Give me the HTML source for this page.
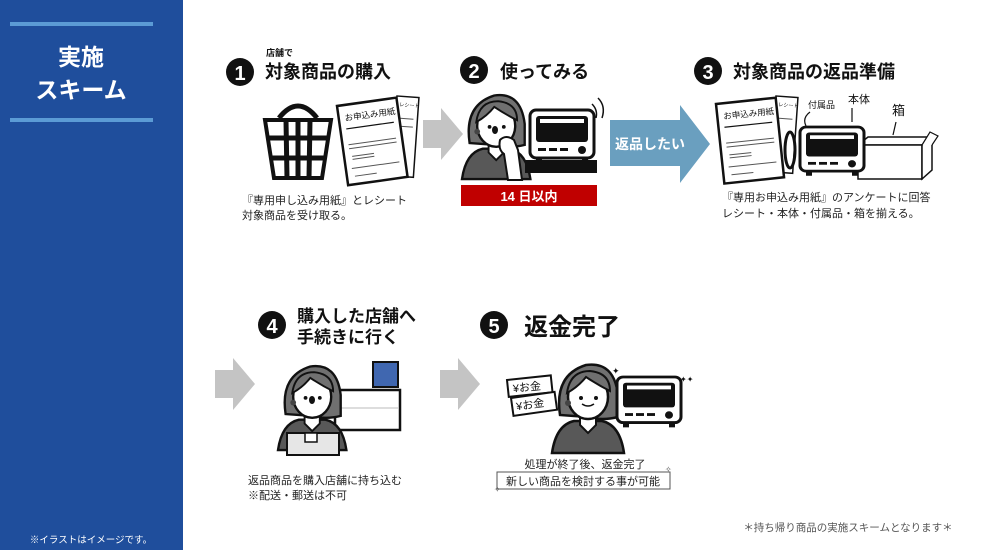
<!DOCTYPE html>
<html><head><meta charset="utf-8"><style>
html,body{margin:0;padding:0;background:#fff;}
svg{display:block;}
text{font-family:"Liberation Sans","Noto Sans CJK JP",sans-serif;}
</style></head><body>
<svg width="985" height="550" viewBox="0 0 985 550" xmlns="http://www.w3.org/2000/svg">
<defs>
<g id="woman">
 <path d="M8 60 Q2 20 34 10 Q62 6 66 40 L66 62 Q50 66 36 62 Z" fill="#707070" stroke="#111" stroke-width="2.5"/>
 <path d="M0 98 Q4 70 22 66 L50 66 Q68 70 72 98 Z" fill="#585858" stroke="#111" stroke-width="2.5"/>
 <path d="M28 58 L28 70 L36 78 L44 70 L44 58 Z" fill="#fff" stroke="#111" stroke-width="2"/>
 <ellipse cx="36" cy="42" rx="20" ry="22" fill="#fff" stroke="#111" stroke-width="2.5"/>
 <path d="M15 38 Q18 16 38 16 Q58 18 58 36 Q46 30 34 22 Q26 32 15 38 Z" fill="#707070" stroke="#111" stroke-width="2"/>
 <circle cx="29" cy="43" r="2" fill="#111"/><circle cx="44" cy="43" r="2" fill="#111"/>
 <circle cx="16" cy="48" r="3" fill="#444"/>
</g>
<g id="oven">
 <rect x="0" y="0" width="64" height="48" rx="6" fill="#fff" stroke="#111" stroke-width="3"/>
 <rect x="6" y="6" width="52" height="26" rx="3" fill="#111"/>
 <rect x="10" y="9" width="44" height="4" fill="#fff"/>
 <rect x="8" y="38" width="8" height="3" fill="#111"/><rect x="19" y="38" width="8" height="3" fill="#111"/><rect x="30" y="38" width="8" height="3" fill="#111"/>
 <circle cx="52" cy="40" r="4" fill="#111"/>
 <rect x="6" y="48" width="6" height="5" fill="#111"/><rect x="52" y="48" width="6" height="5" fill="#111"/>
</g>
<g id="paper">
 <rect x="0" y="0" width="60" height="80" fill="#fff" stroke="#111" stroke-width="2.5"/>
 <line x1="6" y1="24" x2="54" y2="24" stroke="#111" stroke-width="1.2"/>
 <line x1="6" y1="40" x2="54" y2="40" stroke="#555"/><line x1="6" y1="44" x2="54" y2="44" stroke="#555"/>
 <line x1="8" y1="52" x2="30" y2="52" stroke="#555"/><line x1="8" y1="55" x2="30" y2="55" stroke="#555"/>
 <line x1="6" y1="64" x2="54" y2="64" stroke="#555"/><line x1="8" y1="72" x2="30" y2="72" stroke="#555"/>
</g>
<g id="garrow"><path d="M0 12 L18 12 L18 0 L40 26 L18 52 L18 40 L0 40 Z" fill="#c4c4c4"/></g>
</defs>

<rect x="0" y="0" width="183" height="550" fill="#1f4e9c"/>
<rect x="10" y="22" width="143" height="4" fill="#5b9bd5"/>
<rect x="10" y="118" width="143" height="4" fill="#5b9bd5"/>
<text x="81" y="65" font-size="23" font-weight="bold" fill="#fff" text-anchor="middle">実施</text>
<text x="81" y="98" font-size="23" font-weight="bold" fill="#fff" text-anchor="middle">スキーム</text>
<text x="91" y="543" font-size="9.5" fill="#fff" text-anchor="middle">※イラストはイメージです。</text>

<!-- step1 -->
<circle cx="240" cy="72" r="14" fill="#111"/>
<text x="240" y="80" font-size="20" font-weight="bold" fill="#fff" text-anchor="middle">1</text>
<text x="266" y="56" font-size="9" font-weight="bold" fill="#111">店舗で</text>
<text x="265" y="78" font-size="18" font-weight="bold" fill="#111">対象商品の購入</text>
<path d="M279 118 Q298 94 317 118" fill="none" stroke="#111" stroke-width="5"/>
<path d="M265 120 L331 120 L322 178 L274 178 Z" fill="#fff" stroke="#111" stroke-width="4"/>
<g stroke="#111" stroke-width="5"><line x1="268" y1="138" x2="328" y2="138"/><line x1="270" y1="158" x2="325" y2="158"/>
<line x1="286" y1="120" x2="287" y2="178"/><line x1="298" y1="120" x2="298" y2="178"/><line x1="310" y1="120" x2="309" y2="178"/></g>
<g transform="translate(397,96) rotate(4)"><rect x="0" y="0" width="22" height="80" fill="#fff" stroke="#111" stroke-width="1.5"/><text x="3" y="10" font-size="5" fill="#111">レシート</text><line x1="3" y1="22" x2="18" y2="22" stroke="#555"/><line x1="3" y1="30" x2="18" y2="30" stroke="#555"/></g>
<g transform="translate(337,106) rotate(-8)"><use href="#paper"/><text x="6" y="16" font-size="8.5" fill="#111">お申込み用紙</text></g>
<text x="242" y="204" font-size="11" fill="#222">『専用申し込み用紙』とレシート</text>
<text x="242" y="219" font-size="11" fill="#222">対象商品を受け取る。</text>

<use href="#garrow" transform="translate(423,108)"/>

<!-- step2 -->
<circle cx="474" cy="70" r="14" fill="#111"/>
<text x="474" y="78" font-size="20" font-weight="bold" fill="#fff" text-anchor="middle">2</text>
<text x="500" y="78" font-size="18" font-weight="bold" fill="#111">使ってみる</text>
<use href="#woman" transform="translate(462,86) scale(0.95)"/>
<ellipse cx="495" cy="130" rx="3" ry="4" fill="#111"/>
<path d="M500 140 Q506 134 514 140 L518 150 L522 180 L508 180 L504 154 Q498 150 500 140 Z" fill="#fff" stroke="#111" stroke-width="2"/>
<use href="#oven" transform="translate(530,110)"/>
<rect x="525" y="160" width="72" height="13" fill="#111"/>
<path d="M592 104 Q598 110 596 118 M598 98 Q606 106 602 118" fill="none" stroke="#111" stroke-width="1.5"/>
<rect x="461" y="185" width="136" height="21" fill="#c00000"/>
<text x="529" y="201" font-size="13" font-weight="bold" fill="#fff" text-anchor="middle">14 日以内</text>

<path d="M610 120 L680 120 L680 105 L710 144 L680 183 L680 166 L610 166 Z" fill="#6a9fbf"/>
<text x="650" y="149" font-size="14" font-weight="bold" fill="#fff" text-anchor="middle">返品したい</text>

<!-- step3 -->
<circle cx="708" cy="71" r="14" fill="#111"/>
<text x="708" y="79" font-size="20" font-weight="bold" fill="#fff" text-anchor="middle">3</text>
<text x="733" y="78" font-size="18" font-weight="bold" fill="#111">対象商品の返品準備</text>
<g transform="translate(776,96) rotate(4)"><rect x="0" y="0" width="22" height="76" fill="#fff" stroke="#111" stroke-width="1.5"/><text x="3" y="10" font-size="5" fill="#111">レシート</text><line x1="3" y1="22" x2="18" y2="22" stroke="#555"/></g>
<g transform="translate(716,104) rotate(-6)"><use href="#paper"/><text x="6" y="16" font-size="8.5" fill="#111">お申込み用紙</text></g>
<path d="M858 145 L868 137 L932 137 L922 145 Z" fill="#fff" stroke="#111" stroke-width="1.5"/>
<rect x="858" y="145" width="64" height="34" fill="#fff" stroke="#111" stroke-width="1.5"/>
<path d="M922 145 L932 137 L932 170 L922 179 Z" fill="#fff" stroke="#111" stroke-width="1.5"/>
<path d="M922 145 L930 132 L938 136 L932 145" fill="#fff" stroke="#111" stroke-width="1.2"/>
<use href="#oven" transform="translate(800,127) scale(1,0.92)"/>
<ellipse cx="790" cy="150" rx="5" ry="18" fill="none" stroke="#111" stroke-width="3"/>
<text x="808" y="108" font-size="9" fill="#111">付属品</text>
<text x="848" y="103" font-size="11" fill="#111">本体</text>
<text x="892" y="115" font-size="13" fill="#111">箱</text>
<path d="M810 112 Q802 118 806 126 M852 108 L852 122 M896 122 L893 135" fill="none" stroke="#111" stroke-width="1.2"/>
<text x="722" y="201" font-size="11" fill="#222">『専用お申込み用紙』のアンケートに回答</text>
<text x="722" y="217" font-size="11" fill="#222">レシート・本体・付属品・箱を揃える。</text>

<!-- row2 -->
<use href="#garrow" transform="translate(215,358)"/>
<circle cx="272" cy="325" r="14" fill="#111"/>
<text x="272" y="333" font-size="20" font-weight="bold" fill="#fff" text-anchor="middle">4</text>
<text x="297" y="322" font-size="17" font-weight="bold" fill="#111">購入した店舗へ</text>
<text x="297" y="343" font-size="17" font-weight="bold" fill="#111">手続きに行く</text>
<rect x="373" y="362" width="25" height="25" fill="#4067b0" stroke="#111" stroke-width="2"/>
<rect x="335" y="390" width="65" height="40" fill="#fff" stroke="#111" stroke-width="2.5"/>
<line x1="335" y1="408" x2="398" y2="408" stroke="#bbb"/>
<use href="#woman" transform="translate(278,357) scale(0.95)"/>
<ellipse cx="312" cy="400" rx="3" ry="4" fill="#111"/>
<rect x="287" y="433" width="52" height="22" fill="#e6e6e6" stroke="#111" stroke-width="2"/>
<rect x="305" y="433" width="12" height="9" fill="#fff" stroke="#111" stroke-width="1.5"/>
<text x="248" y="484" font-size="11" fill="#222">返品商品を購入店舗に持ち込む</text>
<text x="248" y="499" font-size="11" fill="#222">※配送・郵送は不可</text>

<use href="#garrow" transform="translate(440,358)"/>
<circle cx="494" cy="325" r="14" fill="#111"/>
<text x="494" y="333" font-size="20" font-weight="bold" fill="#fff" text-anchor="middle">5</text>
<text x="524" y="335" font-size="24" font-weight="bold" fill="#111">返金完了</text>
<g transform="translate(507,380) rotate(-6)"><rect x="0" y="0" width="44" height="17" fill="#fff" stroke="#111" stroke-width="2"/><text x="5" y="13" font-size="11" fill="#111">¥お金</text></g>
<g transform="translate(511,398) rotate(-8)"><rect x="0" y="0" width="44" height="18" fill="#fff" stroke="#111" stroke-width="2"/><text x="4" y="13" font-size="11" fill="#111">¥お金</text></g>
<use href="#woman" transform="translate(552,355)"/>
<path d="M582 404 Q588 408 594 404" fill="none" stroke="#111" stroke-width="1.5"/>
<use href="#oven" transform="translate(617,377) scale(1,0.95)"/>
<text x="612" y="374" font-size="9" fill="#111">✦</text><text x="680" y="382" font-size="8" fill="#111">✦✦</text>
<text x="585" y="468" font-size="11" fill="#222" text-anchor="middle">処理が終了後、返金完了</text>
<rect x="497" y="472" width="173" height="17" fill="#fff" stroke="#555" stroke-width="1"/>
<text x="583" y="485" font-size="11" fill="#222" text-anchor="middle">新しい商品を検討する事が可能</text>
<text x="494" y="492" font-size="8" fill="#555">✧</text><text x="665" y="472" font-size="8" fill="#555">✧</text>

<text x="848" y="531" font-size="10.5" fill="#555" text-anchor="middle">＊持ち帰り商品の実施スキームとなります＊</text>
</svg>
</body></html>
